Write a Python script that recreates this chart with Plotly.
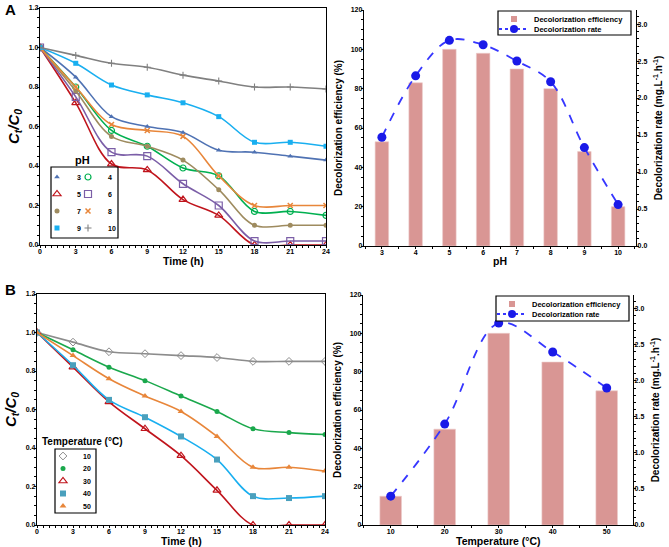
import plotly.graph_objects as go

# ---------------- data ----------------
time_h = [0, 3, 6, 9, 12, 15, 18, 21, 24]

ph_labels = ["3", "4", "5", "6", "7", "8", "9", "10"]
ct_ph3 = [1.0, 0.85, 0.65, 0.60, 0.57, 0.48, 0.47, 0.45, 0.43]
ct_ph4 = [1.0, 0.80, 0.58, 0.50, 0.39, 0.35, 0.17, 0.17, 0.15]
ct_ph5 = [1.0, 0.72, 0.41, 0.38, 0.23, 0.15, 0.00, 0.00, 0.00]
ct_ph6 = [1.0, 0.75, 0.47, 0.45, 0.31, 0.20, 0.02, 0.02, 0.02]
ct_ph7 = [1.0, 0.78, 0.55, 0.50, 0.43, 0.28, 0.10, 0.10, 0.10]
ct_ph8 = [1.0, 0.80, 0.61, 0.58, 0.55, 0.35, 0.20, 0.20, 0.20]
ct_ph9 = [1.0, 0.92, 0.81, 0.76, 0.72, 0.65, 0.52, 0.52, 0.50]
ct_ph10 = [1.0, 0.96, 0.92, 0.90, 0.86, 0.83, 0.80, 0.80, 0.79]

ph_values = [3, 4, 5, 6, 7, 8, 9, 10]
eff_ph = [53, 83, 100, 98, 90, 80, 48, 20]
rate_ph = [1.47, 2.30, 2.78, 2.72, 2.50, 2.22, 1.33, 0.56]

temp_labels = ["10", "20", "30", "40", "50"]
ct_t10 = [1.0, 0.95, 0.90, 0.89, 0.88, 0.87, 0.85, 0.85, 0.85]
ct_t20 = [1.0, 0.91, 0.82, 0.75, 0.67, 0.59, 0.50, 0.48, 0.47]
ct_t30 = [1.0, 0.82, 0.64, 0.50, 0.36, 0.18, 0.00, 0.00, 0.00]
ct_t40 = [1.0, 0.83, 0.65, 0.56, 0.46, 0.34, 0.15, 0.14, 0.15]
ct_t50 = [1.0, 0.88, 0.76, 0.67, 0.59, 0.46, 0.30, 0.30, 0.28]

temp_values = [10, 20, 30, 40, 50]
eff_temp = [15, 50, 100, 85, 70]
rate_temp = [0.40, 1.40, 2.80, 2.40, 1.90]

# ---------------- helpers ----------------
W, H = 669, 547
FONT = "Liberation Sans, Arial, sans-serif"


def px(x):
    return x / W


def py(y):
    return 1 - y / H


def fnt(size):
    return dict(family=FONT, size=size, color="black", weight="bold")


ph_series = [ct_ph3, ct_ph4, ct_ph5, ct_ph6, ct_ph7, ct_ph8, ct_ph9, ct_ph10]
ph_styles = [
    dict(color="#4f72b3", symbol="triangle-up", size=5, lw=0),
    dict(color="#00b050", symbol="circle-open", size=6, lw=1.2),
    dict(color="#c0141c", symbol="triangle-up-open", size=7, lw=1.2),
    dict(color="#7b5ea7", symbol="square-open", size=7, lw=1.2),
    dict(color="#9e8b5f", symbol="circle", size=5, lw=0),
    dict(color="#e8863a", symbol="x-thin", size=5, lw=1.5),
    dict(color="#19aff0", symbol="square", size=5, lw=0),
    dict(color="#808080", symbol="cross-thin", size=5, lw=1.1),
]
temp_series = [ct_t10, ct_t20, ct_t30, ct_t40, ct_t50]
temp_styles = [
    dict(color="#8c8c8c", mcolor="#8c8c8c", symbol="diamond-open", size=6, lw=1.0),
    dict(color="#1aa84c", mcolor="#1aa84c", symbol="circle", size=5, lw=0),
    dict(color="#c0141c", mcolor="#c0141c", symbol="triangle-up-open", size=7, lw=1.2),
    dict(color="#19aff0", mcolor="#4aa0bd", symbol="square", size=6, lw=0),
    dict(color="#e8863a", mcolor="#e8863a", symbol="triangle-up", size=6, lw=0),
]

fig = go.Figure()
legends = {}
leg_count = [0]


def new_legend(x_px, y_px, size=7):
    leg_count[0] += 1
    n = leg_count[0]
    key = "legend" if n == 1 else "legend%d" % n
    legends[key] = dict(
        x=px(x_px), y=py(y_px), xanchor="left", yanchor="middle",
        bgcolor="rgba(0,0,0,0)", borderwidth=0, font=fnt(size),
        itemclick=False, itemdoubleclick=False,
    )
    return key


# ---------------- Panel A left ----------------
ph_rows = [177, 194, 211, 228]
ph_cols = [37, 68]
for i, (lab, ys, st) in enumerate(zip(ph_labels, ph_series, ph_styles)):
    mk = dict(color=st["color"], symbol=st["symbol"], size=st["size"],
              line=dict(color=st["color"], width=st["lw"]))
    fig.add_trace(go.Scatter(
        x=time_h, y=ys, mode="lines+markers", xaxis="x", yaxis="y",
        line=dict(color=st["color"], width=1.6, shape="spline", smoothing=1.0),
        marker=mk, showlegend=False, name="pH " + lab))
    key = new_legend(ph_cols[i % 2], ph_rows[i // 2])
    fig.add_trace(go.Scatter(
        x=[None], y=[None], mode="markers", xaxis="x", yaxis="y",
        marker=mk, name=lab, legend=key, showlegend=True))

# ---------------- Panel A right ----------------
fig.add_trace(go.Bar(
    x=ph_values, y=eff_ph, width=0.4, xaxis="x2", yaxis="y2",
    marker=dict(color="#d99694", line=dict(color="#eccbca", width=0.6)),
    showlegend=False, name="Decolorization efficiency"))
fig.add_trace(go.Scatter(
    x=ph_values, y=rate_ph, xaxis="x2", yaxis="y3", mode="lines+markers",
    line=dict(color="#3636ff", width=1.8, dash="dash", shape="spline"),
    marker=dict(color="#1a1ae8", size=9),
    name="Decolorization rate", showlegend=False))
k = new_legend(494, 19, 7.5)
fig.add_trace(go.Scatter(
    x=[None], y=[None], mode="markers", xaxis="x2", yaxis="y2",
    marker=dict(color="#d99694", symbol="square", size=6),
    name="Decolorization efficiency", legend=k))
k = new_legend(494, 29, 7.5)
fig.add_trace(go.Scatter(
    x=[None], y=[None], mode="lines+markers", xaxis="x2", yaxis="y3",
    line=dict(color="#3636ff", width=1.8, dash="dot"),
    marker=dict(color="#1a1ae8", size=8),
    name="Decolorization rate", legend=k))

# ---------------- Panel B left ----------------
t_rows = [456, 468.5, 481, 493.5, 506]
for i, (lab, ys, st) in enumerate(zip(temp_labels, temp_series, temp_styles)):
    mk = dict(color=st["mcolor"], symbol=st["symbol"], size=st["size"],
              line=dict(color=st["mcolor"], width=st["lw"]))
    fig.add_trace(go.Scatter(
        x=time_h, y=ys, mode="lines+markers", xaxis="x3", yaxis="y4",
        line=dict(color=st["color"], width=1.6, shape="spline", smoothing=1.0),
        marker=mk, showlegend=False, name=lab + " °C"))
    key = new_legend(43, t_rows[i])
    fig.add_trace(go.Scatter(
        x=[None], y=[None], mode="markers", xaxis="x3", yaxis="y4",
        marker=mk, name=lab, legend=key, showlegend=True))

# ---------------- Panel B right ----------------
fig.add_trace(go.Bar(
    x=temp_values, y=eff_temp, width=4, xaxis="x4", yaxis="y5",
    marker=dict(color="#d99694", line=dict(color="#eccbca", width=0.6)),
    showlegend=False, name="Decolorization efficiency"))
fig.add_trace(go.Scatter(
    x=temp_values, y=rate_temp, xaxis="x4", yaxis="y6", mode="lines+markers",
    line=dict(color="#3636ff", width=1.8, dash="dash", shape="spline"),
    marker=dict(color="#1a1ae8", size=9),
    name="Decolorization rate", showlegend=False))
k = new_legend(492, 304, 7.5)
fig.add_trace(go.Scatter(
    x=[None], y=[None], mode="markers", xaxis="x4", yaxis="y5",
    marker=dict(color="#d99694", symbol="square", size=6),
    name="Decolorization efficiency", legend=k))
k = new_legend(492, 314, 7.5)
fig.add_trace(go.Scatter(
    x=[None], y=[None], mode="lines+markers", xaxis="x4", yaxis="y6",
    line=dict(color="#3636ff", width=1.8, dash="dot"),
    marker=dict(color="#1a1ae8", size=8),
    name="Decolorization rate", legend=k))

# ---------------- axes ----------------
def base_axis(**kw):
    d = dict(showgrid=False, zeroline=False, showline=True, linecolor="black",
             linewidth=1.4, ticks="outside", ticklen=2, tickwidth=1,
             tickcolor="black", tickfont=fnt(7), automargin=False)
    d.update(kw)
    return d


minor_x = dict(ticks="outside", ticklen=2, tickcolor="black", tickwidth=1)
XS = -3   # tick label standoff, x axes
YS = -3   # tick label standoff, y axes

layout_axes = dict(
    xaxis=base_axis(domain=[px(40), px(326)], range=[0, 24], anchor="y",
                    tick0=0, dtick=3, mirror=True, ticklabelstandoff=XS,
                    minor=dict(dtick=0.5, **minor_x)),
    yaxis=base_axis(domain=[py(245), py(8)], range=[0, 1.2], anchor="x",
                    dtick=0.2, tickformat=".1f", mirror=True, ticklabelstandoff=YS,
                    minor=dict(dtick=0.05, **minor_x),
                    title=dict(text="<i>C<sub>t</sub>/C<sub>0</sub></i>",
                               font=fnt(15), standoff=5)),
    xaxis2=base_axis(domain=[px(364), px(636)], range=[2.47, 10.53], anchor="y2",
                     tick0=3, dtick=1, ticklabelstandoff=XS,
                     minor=dict(dtick=0.5, tick0=3, **minor_x)),
    yaxis2=base_axis(domain=[py(246), py(10)], range=[0, 120], anchor="x2",
                     dtick=20, ticklabelstandoff=YS, minor=dict(dtick=5, **minor_x),
                     title=dict(text="Decolorization efficiency (%)", font=fnt(10),
                                standoff=6)),
    yaxis3=base_axis(overlaying="y2", side="right", anchor="x2", range=[0, 3.19],
                     dtick=0.5, tickformat=".1f", ticklabelstandoff=YS,
                     minor=dict(dtick=0.1, **minor_x),
                     title=dict(text="Decolorization rate (mg.L<sup>-1</sup>.h<sup>-1</sup>)",
                                font=fnt(10), standoff=8)),
    xaxis3=base_axis(domain=[px(37), px(325)], range=[0, 24], anchor="y4",
                     tick0=0, dtick=3, mirror=True, ticklabelstandoff=XS,
                     minor=dict(dtick=0.5, **minor_x)),
    yaxis4=base_axis(domain=[py(525), py(294)], range=[0, 1.2], anchor="x3",
                     dtick=0.2, tickformat=".1f", mirror=True, ticklabelstandoff=YS,
                     minor=dict(dtick=0.05, **minor_x),
                     title=dict(text="<i>C<sub>t</sub>/C<sub>0</sub></i>",
                                font=fnt(15), standoff=5)),
    xaxis4=base_axis(domain=[px(363), px(633)], range=[4.87, 54.87], anchor="y5",
                     tick0=10, dtick=10, ticklabelstandoff=XS,
                     minor=dict(dtick=5, tick0=10, **minor_x)),
    yaxis5=base_axis(domain=[py(525), py(295)], range=[0, 120], anchor="x4",
                     dtick=20, ticklabelstandoff=YS, minor=dict(dtick=5, **minor_x),
                     title=dict(text="Decolorization efficiency (%)", font=fnt(10),
                                standoff=6)),
    yaxis6=base_axis(overlaying="y5", side="right", anchor="x4", range=[0, 3.19],
                     dtick=0.5, tickformat=".1f", ticklabelstandoff=YS,
                     minor=dict(dtick=0.1, **minor_x),
                     title=dict(text="Decolorization rate (mg.L<sup>-1</sup>.h<sup>-1</sup>)",
                                font=fnt(10), standoff=8)),
)

shapes = [
    # legend frames
    dict(type="rect", xref="paper", yref="paper", x0=px(51), x1=px(118),
         y0=py(238), y1=py(167), line=dict(color="black", width=1.2),
         fillcolor="rgba(0,0,0,0)", layer="above"),
    dict(type="rect", xref="paper", yref="paper", x0=px(55), x1=px(96),
         y0=py(513), y1=py(449), line=dict(color="black", width=1.2),
         fillcolor="rgba(0,0,0,0)", layer="above"),
    dict(type="rect", xref="paper", yref="paper", x0=px(498), x1=px(631),
         y0=py(35), y1=py(11), line=dict(color="black", width=1.2),
         fillcolor="white", layer="above"),
    dict(type="rect", xref="paper", yref="paper", x0=px(496), x1=px(629),
         y0=py(321), y1=py(296), line=dict(color="black", width=1.2),
         fillcolor="white", layer="above"),
]


def label(text, x, y, size, xanchor="center"):
    return dict(text=text, x=px(x), y=py(y), xref="paper", yref="paper",
                xanchor=xanchor, yanchor="middle", showarrow=False, font=fnt(size))


annotations = [
    label("A", 3, 9, 15, "left"),
    label("B", 3, 289, 15, "left"),
    label("pH", 82, 160, 11),
    label("Temperature (°C)", 40, 441, 10, "left"),
    # x-axis titles
    label("Time (h)", 183, 261, 10.5),
    label("pH", 500, 261, 10.5),
    label("Time (h)", 181, 541, 10.5),
    label("Temperature (°C)", 498, 541, 10.5),
]

fig.update_layout(
    width=W, height=H, margin=dict(l=0, r=0, t=0, b=0),
    paper_bgcolor="white", plot_bgcolor="white",
    font=dict(family=FONT, color="black", weight="bold"),
    shapes=shapes, annotations=annotations, barmode="overlay",
    **layout_axes, **legends,
)

fig.write_html(
    "out.html",
    config={"displayModeBar": False},
    post_script="document.body.style.margin='0';document.body.style.overflow='hidden';",
)
